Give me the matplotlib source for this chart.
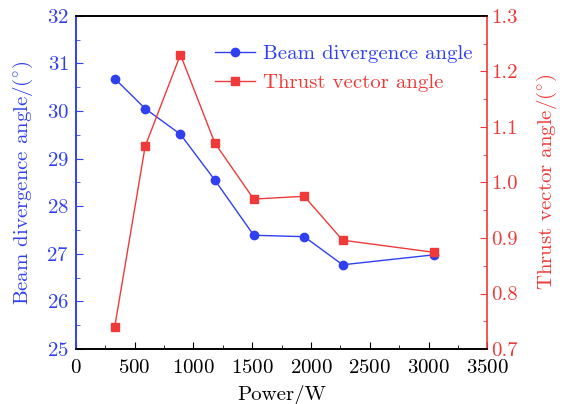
import matplotlib
matplotlib.use("Agg")
import matplotlib.pyplot as plt
from matplotlib.ticker import MultipleLocator

plt.rcParams["font.family"] = ["cmr10", "DejaVu Serif"]
plt.rcParams["mathtext.fontset"] = "cm"
plt.rcParams["axes.formatter.use_mathtext"] = True

power = [331, 590, 890, 1182, 1513, 1943, 2269, 3050]
beam_angle = [30.68, 30.05, 29.51, 28.55, 27.39, 27.36, 26.77, 26.98]
thrust_angle = [0.740, 1.065, 1.230, 1.071, 0.970, 0.975, 0.896, 0.874]

BLUE = "#3040f0"
RED = "#f03a3a"
FS = 15

fig = plt.figure(figsize=(5.7, 4.04), dpi=100)
ax = fig.add_axes([0.133, 0.136, 0.722, 0.825])
ax2 = ax.twinx()

l1, = ax.plot(power, beam_angle, "-o", color=BLUE, lw=1.0, ms=6,
              label="Beam divergence angle", zorder=3)
l2, = ax2.plot(power, thrust_angle, "-s", color=RED, lw=1.0, ms=6,
               label="Thrust vector angle", zorder=3)

ax.set_xlim(0, 3500)
ax.set_ylim(25, 32)
ax2.set_ylim(0.7, 1.3)
ax.xaxis.set_major_locator(MultipleLocator(500))
ax.xaxis.set_minor_locator(MultipleLocator(250))
ax.yaxis.set_major_locator(MultipleLocator(1))
ax.yaxis.set_minor_locator(MultipleLocator(0.5))
ax2.yaxis.set_major_locator(MultipleLocator(0.1))
ax2.yaxis.set_minor_locator(MultipleLocator(0.05))
ax2.yaxis.set_major_formatter(plt.FuncFormatter(lambda v, p: f"{v:.1f}"))

ax.tick_params(axis="x", which="both", direction="in", top=False, labelsize=FS, pad=7)
ax.tick_params(axis="x", which="major", length=5)
ax.tick_params(axis="x", which="minor", length=3)
ax.tick_params(axis="y", which="both", direction="in", colors=BLUE, labelsize=FS, pad=5)
ax.tick_params(axis="y", which="major", length=5)
ax.tick_params(axis="y", which="minor", length=3)
ax2.tick_params(axis="y", which="both", direction="in", colors=RED, labelsize=FS, pad=3)
ax2.tick_params(axis="y", which="major", length=5)
ax2.tick_params(axis="y", which="minor", length=3)

ax.spines["left"].set_color(BLUE)
ax2.spines["left"].set_color(BLUE)
ax2.spines["right"].set_color(RED)
ax.spines["right"].set_visible(False)
for a in (ax, ax2):
    for s in a.spines.values():
        s.set_linewidth(1.2)

ax.set_xlabel("Power/W", fontsize=FS, labelpad=6)
ax.set_ylabel(r"Beam divergence angle/$(^{\circ})$", fontsize=FS, color=BLUE, labelpad=8)
ax2.set_ylabel(r"Thrust vector angle/$(^{\circ})$", fontsize=FS, color=RED, labelpad=12)

leg = ax.legend(handles=[l1, l2], loc="upper right", frameon=False, fontsize=FS,
                handlelength=1.9, handletextpad=0.4, labelspacing=0.5,
                bbox_to_anchor=(1.01, 0.97))
for txt, c in zip(leg.get_texts(), (BLUE, RED)):
    txt.set_color(c)

fig.savefig("out.png", dpi=100)
